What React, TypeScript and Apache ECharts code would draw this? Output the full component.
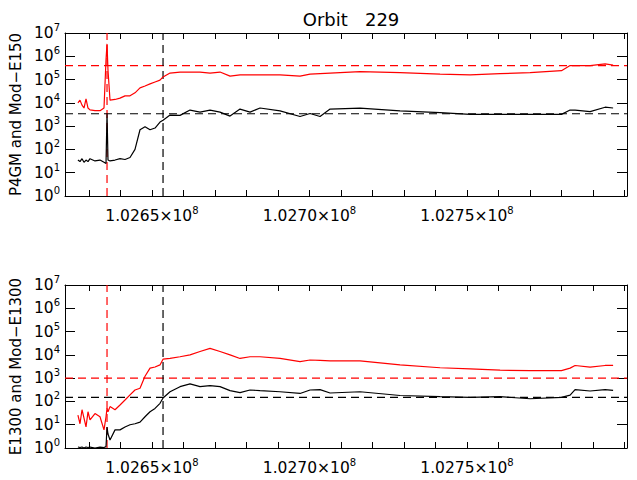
import React, { useEffect, useRef } from "react";
import * as echarts from "echarts";

const times = [102626500, 102627160, 102627800, 102628430, 102629070, 102629700, 102630340, 102631920, 102633510, 102634780, 102635420, 102635740, 102636050, 102636690, 102638280, 102639860, 102641450, 102643040, 102644620, 102646210, 102647800, 102649390, 102650980, 102652560, 102653520, 102655740, 102658910, 102662090, 102665260, 102668440, 102671610, 102674790, 102677960, 102681140, 102684310, 102690660, 102697010, 102700190, 102703360, 102706540, 102716060, 102728760, 102741460, 102750990, 102760510, 102770040, 102780000, 102782740, 102784320, 102789090, 102793850, 102796390];

const redTop = [1.0e4, 1.3e4, 8e3, 6e3, 1.5e4, 6e3, 5e3, 4.6e3, 4.6e3, 6e3, 7e5, 3.4e6, 2.5e5, 1.3e4, 1.4e4, 1.6e4, 2e4, 2e4, 2.7e4, 4.4e4, 5.3e4, 6.5e4, 7.9e4, 9.5e4, 1.3e5, 1.9e5, 2.1e5, 2.1e5, 2.1e5, 1.9e5, 2.1e5, 1.4e5, 1.6e5, 1.6e5, 1.6e5, 1.6e5, 1.4e5, 1.7e5, 1.8e5, 1.9e5, 2.2e5, 2e5, 1.7e5, 1.6e5, 1.8e5, 2e5, 2.4e5, 4e5, 4e5, 4e5, 4.7e5, 4.2e5];
const blackTop = [35, 30, 40, 28, 35, 30, 40, 32, 35, 28, 25, 3.7e3, 35, 32, 35, 40, 37, 45, 100, 700, 950, 700, 830, 1.5e3, 1.8e3, 3.0e3, 2.9e3, 4.9e3, 4e3, 4.9e3, 4e3, 2.7e3, 5.4e3, 4e3, 6e3, 4.5e3, 2.6e3, 3.5e3, 2.6e3, 5.4e3, 5.9e3, 4.5e3, 3.8e3, 3.2e3, 3.2e3, 3.2e3, 3.2e3, 4.9e3, 4.9e3, 4.2e3, 6.5e3, 6e3];
const redBottom = [26, 11, 44, 19, 8, 36, 16, 30, 22, 6, 22, 50, 36, 60, 44, 70, 115, 190, 310, 370, 1.2e3, 2.7e3, 3e3, 3.7e3, 6.5e3, 7e3, 8.3e3, 1e4, 1.4e4, 1.9e4, 1.4e4, 1e4, 7e3, 8.3e3, 8.3e3, 7e3, 5.1e3, 6e3, 5.8e3, 5.5e3, 5.5e3, 3.7e3, 2.8e3, 2.5e3, 2.2e3, 2.1e3, 2.1e3, 2.7e3, 3.5e3, 3e3, 3.5e3, 3.5e3];
const blackBottom = [1.1, 1.05, 1.1, 1.0, 1.1, 1.05, 1.1, 1.0, 1.1, 1.05, 1.15, 8, 4, 2.2, 6, 6, 8, 10, 11, 13, 22, 36, 50, 83, 140, 260, 430, 570, 430, 480, 430, 290, 240, 310, 290, 260, 220, 310, 320, 230, 260, 180, 160, 150, 160, 130, 150, 185, 320, 280, 320, 300];

const X_MIN = 102622400;
const X_MAX = 102800800;
const xLabelValues = [102650000, 102700000, 102750000];
const xTickValues = [102630000, 102640000, 102650000, 102660000, 102670000, 102680000, 102690000, 102700000, 102710000, 102720000, 102730000, 102740000, 102750000, 102760000, 102770000, 102780000, 102790000, 102800000];
const vLines = [{ t: 102635740, color: "#ff0000" }, { t: 102653520, color: "#000000" }];
const topRefs = [{ v: 4e5, color: "#ff0000" }, { v: 3.4e3, color: "#000000" }];
const bottomRefs = [{ v: 1e3, color: "#ff0000" }, { v: 1.5e2, color: "#000000" }];
const yNames = ["P4GM and Mod\u2212E150", "E1300 and Mod\u2212E1300"];

const FONT = "DejaVu Sans";

export default function App() {
  const ref = useRef<HTMLDivElement>(null);
  useEffect(() => {
    document.body.style.margin = "0";
    const chart = echarts.init(ref.current!, null, { renderer: "svg" });
    const grids = [
      { left: 65, top: 33, width: 562, height: 163 },
      { left: 65, top: 285, width: 562, height: 163 },
    ];
    const xAxis: any[] = [];
    const yAxis: any[] = [];
    const rich = {
      b: { fontSize: 15.5, fontFamily: FONT, color: "#000" },
      s: { fontSize: 10, fontFamily: FONT, color: "#000", padding: [0, 0, 11, 0] },
    };
    grids.forEach((_, g) => {
      const base = {
        type: "value", gridIndex: g, min: X_MIN, max: X_MAX,
        axisLine: { lineStyle: { color: "#000", width: 1 } },
        splitLine: { show: false },
      };
      xAxis.push({
        ...base, position: "bottom",
        axisTick: { inside: true, length: 6, customValues: xTickValues, lineStyle: { color: "#000" } },
        axisLabel: {
          customValues: xLabelValues, margin: 9, color: "#000", fontFamily: FONT, fontSize: 15.5,
          formatter: (v: number) => `{b|${(v / 1e8).toFixed(4)}\u00d710}{s|8}`,
          rich,
        },
      });
      xAxis.push({
        ...base, position: "top",
        axisTick: { inside: true, length: 6, customValues: xTickValues, lineStyle: { color: "#000" } },
        axisLabel: { show: false },
      });
      const ybase = {
        type: "log", logBase: 10, gridIndex: g, min: 1, max: 1e7,
        axisLine: { show: true, lineStyle: { color: "#000", width: 1 } },
        splitLine: { show: false },
        axisTick: { show: true, inside: true, length: 10, lineStyle: { color: "#000" } },
      };
      yAxis.push({
        ...ybase, position: "left",
        name: yNames[g], nameLocation: "middle", nameGap: 42, nameRotate: 90,
        nameTextStyle: { color: "#000", fontFamily: FONT, fontSize: 15 },
        axisLabel: {
          color: "#000", margin: 5,
          formatter: (v: number) => `{b|10}{s|${Math.round(Math.log10(v))}}`,
          rich,
        },
      });
      yAxis.push({ ...ybase, position: "right", axisLabel: { show: false } });
    });

    const seg = (pts: number[][], color: string, xi: number, yi: number) => ({
      type: "line", xAxisIndex: xi, yAxisIndex: yi, showSymbol: false, silent: true,
      data: pts, lineStyle: { color, width: 1.2, type: [8, 5] }, itemStyle: { color }, z: 1,
    });
    const refSeries = (refs: { v: number; color: string }[], xi: number, yi: number) => [
      ...refs.map((r) => seg([[X_MIN, r.v], [X_MAX, r.v]], r.color, xi, yi)),
      ...vLines.map((l) => seg([[l.t, 1], [l.t, 1e7]], l.color, xi, yi)),
    ];
    const line = (data: number[], color: string, xi: number, yi: number) => ({
      type: "line", xAxisIndex: xi, yAxisIndex: yi, showSymbol: false, z: 3,
      data: times.map((t, i) => [t, data[i]]),
      lineStyle: { color, width: 1.2 }, itemStyle: { color },
    });

    chart.setOption({
      animation: false,
      title: { text: "Orbit   229", left: 346, top: 5, textAlign: "center", textStyle: { fontFamily: FONT, fontWeight: "normal", fontSize: 18, color: "#000" } },
      grid: grids,
      xAxis, yAxis,
      series: [
        ...refSeries(topRefs, 0, 0),
        line(redTop, "#ff0000", 0, 0),
        line(blackTop, "#000000", 0, 0),
        ...refSeries(bottomRefs, 2, 2),
        line(redBottom, "#ff0000", 2, 2),
        line(blackBottom, "#000000", 2, 2),
      ],
    });
    return () => chart.dispose();
  }, []);
  return <div ref={ref} style={{ width: 637, height: 480, background: "#fff" }} />;
}
